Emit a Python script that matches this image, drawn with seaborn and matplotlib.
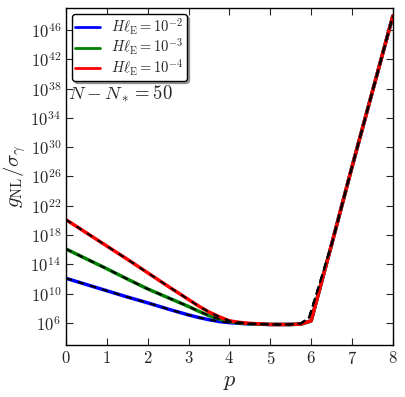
import matplotlib
matplotlib.use("Agg")
import matplotlib.pyplot as plt
import numpy as np
import pandas as pd
import seaborn as sns

# p grid and log10(g_NL / sigma_gamma)
p_vals = [0, 0.5, 1, 1.5, 2, 2.5, 3, 3.25, 3.5, 3.75, 4, 4.25, 4.5, 5, 5.5, 5.75, 6, 6.5, 7, 7.5, 8]
log_g_e2 = [12.1, 11.25, 10.4, 9.55, 8.75, 7.9, 7.1, 6.75, 6.45, 6.2, 6.05, 5.95, 5.87, 5.8, 5.8, 5.85, 6.3, 16.7, 27.3, 37.6, 47.9]
log_g_e3 = [16.1, 14.75, 13.4, 12.0, 10.65, 9.45, 8.25, 7.6, 7.0, 6.55, 6.2, 6.0, 5.9, 5.8, 5.8, 5.85, 6.3, 16.7, 27.3, 37.6, 47.9]
log_g_e4 = [20.1, 18.3, 16.5, 14.7, 12.85, 11.0, 9.2, 8.3, 7.5, 6.85, 6.3, 6.08, 5.95, 5.8, 5.8, 5.85, 6.3, 16.7, 27.3, 37.6, 47.9]

# analytic approximation (black dashed), kinks slightly earlier near p = 6
p_approx = [0, 0.5, 1, 1.5, 2, 2.5, 3, 3.25, 3.5, 3.75, 4, 4.25, 4.5, 5, 5.5, 5.75, 5.95, 6.5, 7, 7.5, 8]
log_a_e2 = [12.1, 11.25, 10.4, 9.55, 8.75, 7.9, 7.1, 6.75, 6.45, 6.2, 6.05, 5.95, 5.87, 5.8, 5.8, 5.95, 6.75, 16.7, 27.3, 37.6, 47.9]
log_a_e3 = [16.1, 14.75, 13.4, 12.0, 10.65, 9.45, 8.25, 7.6, 7.0, 6.55, 6.2, 6.0, 5.9, 5.8, 5.8, 5.95, 6.75, 16.7, 27.3, 37.6, 47.9]
log_a_e4 = [20.1, 18.3, 16.5, 14.7, 12.85, 11.0, 9.2, 8.3, 7.5, 6.85, 6.3, 6.08, 5.95, 5.8, 5.8, 5.95, 6.75, 16.7, 27.3, 37.6, 47.9]

labels = [r"$H\ell_{\rm E} = 10^{-2}$", r"$H\ell_{\rm E} = 10^{-3}$", r"$H\ell_{\rm E} = 10^{-4}$"]
colors = ["#0000ff", "#008000", "#ff0000"]
x_ticks = [0, 1, 2, 3, 4, 5, 6, 7, 8]

sns.set_style("ticks")
plt.rcParams["font.family"] = "serif"
plt.rcParams["font.serif"] = ["cmr10", "DejaVu Serif"]
plt.rcParams["mathtext.fontset"] = "cm"
plt.rcParams["axes.formatter.use_mathtext"] = True
plt.rcParams["xtick.direction"] = "in"
plt.rcParams["ytick.direction"] = "in"

frames = []
approx_frames = []
for lab, vals, approx in zip(labels, [log_g_e2, log_g_e3, log_g_e4], [log_a_e2, log_a_e3, log_a_e4]):
    frames.append(pd.DataFrame({"p": p_vals, "g": 10.0 ** np.array(vals), "case": lab}))
    approx_frames.append(pd.DataFrame({"p": p_approx, "g": 10.0 ** np.array(approx), "case": lab}))
df = pd.concat(frames, ignore_index=True)
df_approx = pd.concat(approx_frames, ignore_index=True)

fig = plt.figure(figsize=(4.05, 3.97), dpi=100)
ax = fig.add_axes([0.163, 0.131, 0.807, 0.849])

sns.lineplot(data=df, x="p", y="g", hue="case", palette=colors, lw=2.5, ax=ax)
for lab in labels:
    sub = df_approx[df_approx["case"] == lab]
    sns.lineplot(data=sub, x="p", y="g", color="black", lw=1.5,
                 ax=ax, legend=False, linestyle=(0, (3, 3)))

ax.set_yscale("log")
ax.set_xlim(0, 8)
ax.set_ylim(1e3, 1e49)
ax.set_yticks([10.0 ** k for k in range(6, 47, 4)])
ax.yaxis.set_minor_locator(matplotlib.ticker.NullLocator())
ax.set_xticks(x_ticks)
ax.set_xticklabels([r"$\mathrm{%d}$" % t for t in x_ticks])
ax.tick_params(axis="both", which="both", top=True, right=True, labelsize=12, length=5, width=0.8)
for s in ax.spines.values():
    s.set_linewidth(1.0)
    s.set_color("black")

ax.set_xlabel(r"$p$", fontsize=16)
ax.set_ylabel(r"$g_{\rm NL}/\sigma_\gamma$", fontsize=15, labelpad=2)

ax.text(0.05, 10 ** 37.2, r"$N - N_* = 50$", fontsize=13.5, va="center", ha="left")

leg = ax.legend(loc="upper left", fontsize=10.5, frameon=True, fancybox=True, shadow=True,
                handlelength=1.7, handletextpad=0.8, borderaxespad=0.4, labelspacing=0.0,
                borderpad=0.2)
leg.get_frame().set_edgecolor("black")
leg.get_frame().set_alpha(1)
for h in leg.get_lines():
    h.set_linewidth(2.0)

fig.savefig("out.png", dpi=100)
